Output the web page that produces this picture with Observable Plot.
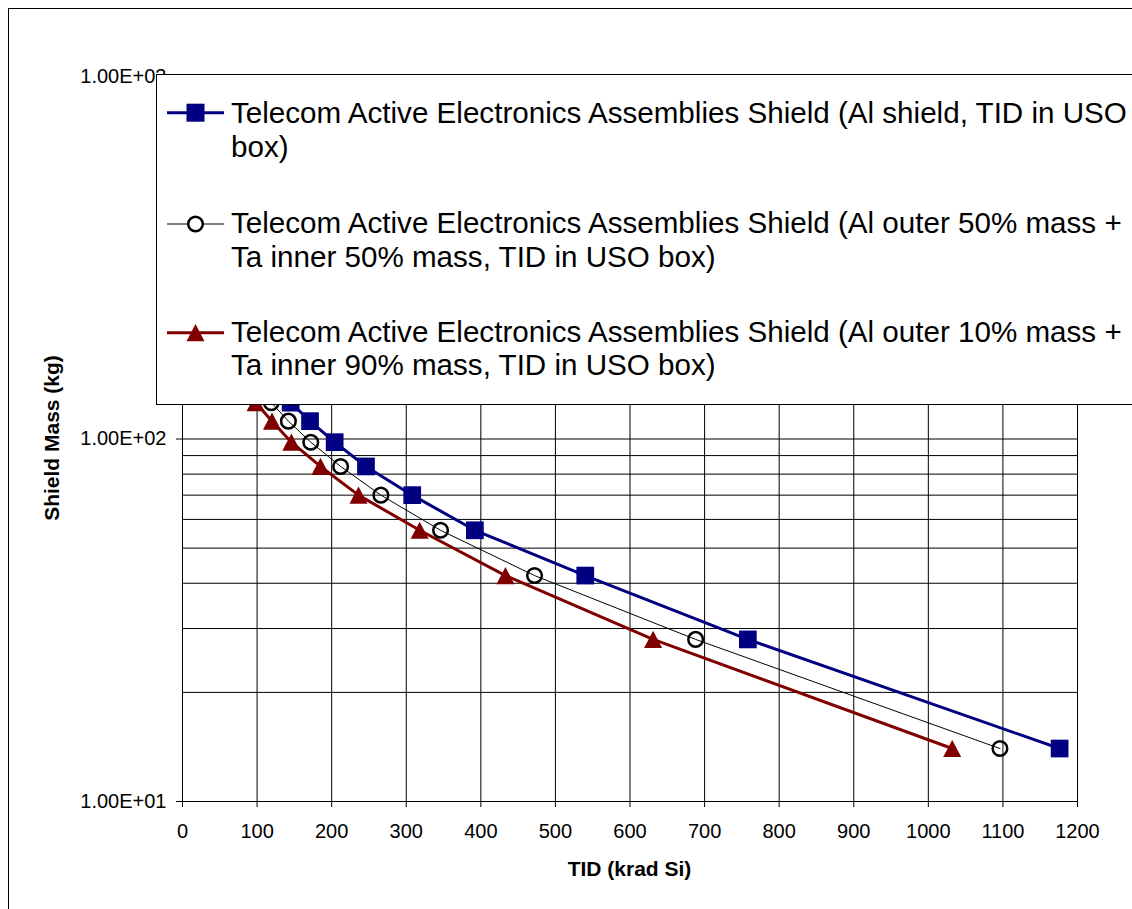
<!DOCTYPE html>
<html><head><meta charset="utf-8">
<script src="https://cdn.jsdelivr.net/npm/d3@7"></script>
<script src="https://cdn.jsdelivr.net/npm/@observablehq/plot@0.6"></script>
<style>
html,body{margin:0;padding:0;background:#fff;overflow:hidden}
#wrap{position:relative;width:1132px;height:909px;overflow:hidden;font-family:"Liberation Sans",Arial,sans-serif;color:#000;background:#fff}
#chart{position:absolute;left:0;top:0}
#outer{position:absolute;left:8px;top:8px;width:1300px;height:1100px;border:1px solid #000;box-sizing:border-box;pointer-events:none}
.axtitle{position:absolute;font-weight:bold;font-size:21px;line-height:21px;white-space:nowrap}
#ytitle{left:51px;top:438px;transform:translate(-50%,-50%) rotate(-90deg)}
#xtitle{left:629.5px;top:858px;transform:translateX(-50%)}
#legend{position:absolute;left:156px;top:74px;width:1100px;height:331px;box-sizing:border-box;border:1px solid #000;background:#fff}
.entry{position:absolute;left:74px;font-size:29.6px;line-height:33.4px;white-space:nowrap}
#legsym{position:absolute;left:0;top:0}
</style></head>
<body>
<div id="wrap">
  <div id="chart"></div>
  <div id="outer"></div>
  <div class="axtitle" id="ytitle">Shield Mass (kg)</div>
  <div class="axtitle" id="xtitle">TID (krad Si)</div>
  <div id="legend"></div>
</div>
<script>
// ---- data ----
const mass = [14, 28, 42, 56, 70, 84, 98, 112, 126];              // Shield mass (kg)
const tidAl = [1176, 758, 540, 392, 308, 246, 204, 171, 145];     // Al shield
const tidAlTa50 = [1096, 688, 472, 346, 266, 212, 172, 142, 119]; // Al 50% + Ta 50%
const tidAlTa90 = [1032, 631, 433, 318, 236, 185, 146, 120, 98];  // Al 10% + Ta 90%

const seriesNames = [
  ["Telecom Active Electronics Assemblies Shield (Al shield, TID in USO", "box)"],
  ["Telecom Active Electronics Assemblies Shield (Al outer 50% mass +", "Ta inner 50% mass, TID in USO box)"],
  ["Telecom Active Electronics Assemblies Shield (Al outer 10% mass +", "Ta inner 90% mass, TID in USO box)"]
];
const seriesColors = ["#000080", "#000000", "#800000"];

const xTicks = [0, 100, 200, 300, 400, 500, 600, 700, 800, 900, 1000, 1100, 1200];
const xGrid = [100, 200, 300, 400, 500, 600, 700, 800, 900, 1000, 1100, 1200];
const yTicks = [10, 100, 1000];
const yGrid = [20, 30, 40, 50, 60, 70, 80, 90, 100, 200, 300, 400, 500, 600, 700, 800, 900, 1000];

const rowsAl = mass.map((m, i) => ({tid: tidAl[i], mass: m}));
const rows50 = mass.map((m, i) => ({tid: tidAlTa50[i], mass: m}));
const rows90 = mass.map((m, i) => ({tid: tidAlTa90[i], mass: m}));

const fmtE = d => d.toExponential(2).toUpperCase().replace(/E([+-])(\d)$/, "E$10$2");

// triangle marker, slightly taller than equilateral, centred on its bounding box
const triangle = {
  draw(ctx, size) {
    const h = Math.sqrt(size) / 2;
    ctx.moveTo(0, -h * 0.95);
    ctx.lineTo(h, h * 0.95);
    ctx.lineTo(-h, h * 0.95);
    ctx.closePath();
  }
};

const chart = Plot.plot({
  width: 1132,
  height: 909,
  marginLeft: 182,
  marginRight: 55,
  marginTop: 76,
  marginBottom: 108,
  x: {domain: [0, 1200]},
  y: {type: "log", domain: [10, 1000]},
  style: {fontFamily: "'Liberation Sans', Arial, sans-serif", fontSize: "20px", color: "#000", background: "transparent", maxWidth: "none"},
  marks: [
    Plot.ruleY(yGrid, {stroke: "#000", strokeWidth: 1}),
    Plot.ruleX(xGrid, {stroke: "#000", strokeWidth: 1}),
    Plot.axisX({ticks: xTicks, tickSize: 6, tickPadding: 16, tickFormat: d => String(d), label: null, fontSize: 20}),
    Plot.axisY({ticks: yTicks, tickSize: 6, tickPadding: 10, tickFormat: fmtE, label: null, fontSize: 20}),
    Plot.ruleX([0], {stroke: "#000"}),
    Plot.ruleY([10], {stroke: "#000"}),
    Plot.line(rowsAl, {x: "tid", y: "mass", stroke: seriesColors[0], strokeWidth: 3}),
    Plot.line(rows50, {x: "tid", y: "mass", stroke: seriesColors[1], strokeWidth: 1}),
    Plot.line(rows90, {x: "tid", y: "mass", stroke: seriesColors[2], strokeWidth: 3}),
    Plot.dot(rowsAl, {x: "tid", y: "mass", symbol: "square", r: 10, fill: seriesColors[0], stroke: "none"}),
    Plot.dot(rows50, {x: "tid", y: "mass", symbol: "circle", r: 7.3, fill: "none", stroke: seriesColors[1], strokeWidth: 2.5}),
    Plot.dot(rows90, {x: "tid", y: "mass", symbol: triangle, r: 10.2, fill: seriesColors[2], stroke: "none"})
  ]
});
document.getElementById("chart").appendChild(chart);

// ---- legend (HTML text + small symbol svg) ----
const legend = document.getElementById("legend");
const ns = "http://www.w3.org/2000/svg";
const sym = document.createElementNS(ns, "svg");
sym.setAttribute("id", "legsym");
sym.setAttribute("width", "80");
sym.setAttribute("height", "331");
legend.appendChild(sym);
const entryTops = [21.3, 131.3, 239.8];
const symY = [37.7, 149, 257.7];
const lineW = [3, 1, 3];
seriesNames.forEach((lines, i) => {
  const div = document.createElement("div");
  div.className = "entry";
  div.style.top = entryTops[i] + "px";
  div.innerHTML = lines.join("<br>");
  legend.appendChild(div);
  const ln = document.createElementNS(ns, "line");
  ln.setAttribute("x1", 10); ln.setAttribute("x2", 67);
  ln.setAttribute("y1", symY[i]); ln.setAttribute("y2", symY[i]);
  ln.setAttribute("stroke", seriesColors[i]);
  ln.setAttribute("stroke-width", lineW[i]);
  sym.appendChild(ln);
  let m;
  if (i === 0) {
    m = document.createElementNS(ns, "rect");
    m.setAttribute("x", 38.5 - 9); m.setAttribute("y", symY[i] - 9);
    m.setAttribute("width", 18); m.setAttribute("height", 18);
    m.setAttribute("fill", seriesColors[0]);
  } else if (i === 1) {
    m = document.createElementNS(ns, "circle");
    m.setAttribute("cx", 38.5); m.setAttribute("cy", symY[i]); m.setAttribute("r", 7.3);
    m.setAttribute("fill", "#fff"); m.setAttribute("stroke", "#000"); m.setAttribute("stroke-width", 2.5);
  } else {
    m = document.createElementNS(ns, "path");
    const c = 38.5, y = symY[i];
    m.setAttribute("d", `M${c},${y - 8.6}L${c + 9},${y + 8.6}L${c - 9},${y + 8.6}Z`);
    m.setAttribute("fill", seriesColors[2]);
  }
  sym.appendChild(m);
});
</script>
</body></html>
